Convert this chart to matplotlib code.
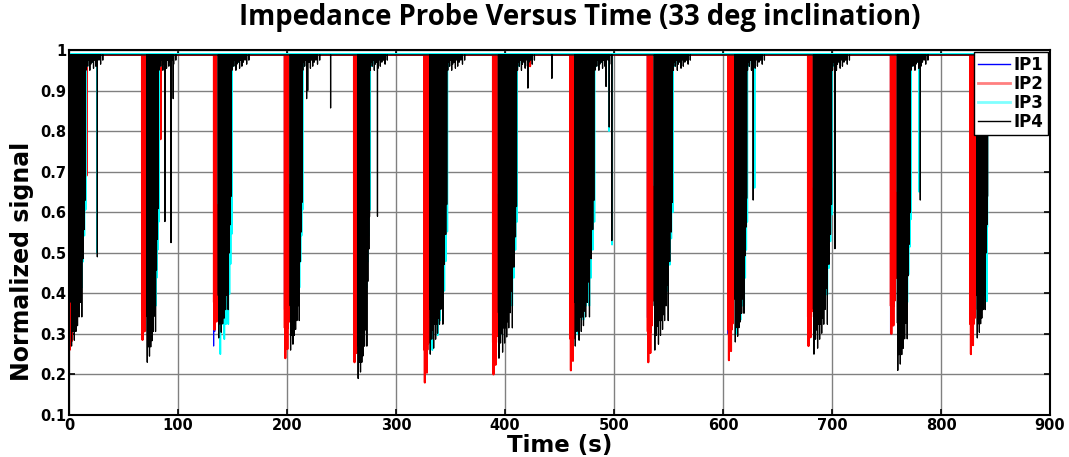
import numpy as np
import matplotlib
matplotlib.use("Agg")
import matplotlib.pyplot as plt
from matplotlib.lines import Line2D

# ---------------------------------------------------------------- data
# slug arrival times (s)
slug_start = [0, 67, 133, 198, 261.5, 326, 389, 460, 531, 605, 678, 754, 827]

# deepest value reached by each probe during each slug
ip1_min = [0.30, 0.33, 0.27, 0.36, 0.30, 0.34, 0.33, 0.30, 0.34, 0.30, 0.32, 0.30, 0.40]
ip2_min = [0.26, 0.285, 0.31, 0.24, 0.23, 0.18, 0.20, 0.21, 0.23, 0.235, 0.27, 0.30, 0.25]
ip3_min = [0.35, 0.30, 0.25, 0.35, 0.35, 0.26, 0.30, 0.30, 0.34, 0.30, 0.33, 0.31, 0.38]
ip4_min = [0.27, 0.23, 0.29, 0.26, 0.19, 0.25, 0.24, 0.27, 0.26, 0.28, 0.25, 0.21, 0.29]

# delay after slug arrival and duration of the aerated region seen by IP4 (s)
ip4_delay = [2, 4.5, 4, 5, 3.5, 5, 5, 4, 6, 6, 5, 6, 6]
ip4_dur = [13, 10.5, 12, 11, 11, 16, 17, 18, 17, 11, 17, 12, 10]

# relative depth of successive troughs inside a slug (1 = deepest)
ip1_shape = [1.0, 0.9, 0.95, 0.85, 0.9, 0.7, 0.8, 0.5, 0.3, 0.05]
ip2_shape = [0.9, 1.0, 0.85, 0.95, 0.8, 0.97, 0.9, 0.75, 0.88, 0.6, 0.8, 0.35,
             0.5, 0.06, 0.03, 0.05, 0.02]
ip3_shape = [0.5, 0.8, 0.6, 1.0, 0.7, 0.75, 0.9, 0.6, 0.85, 0.7, 0.95, 0.8,
             0.6, 0.9, 0.7, 0.85, 0.5, 0.9, 0.3, 0.8, 0.1, 0.7, 0.05, 0.6]
ip4_shape = [0.85, 1.0, 0.9, 0.8, 0.95, 0.88, 0.7, 0.92, 0.98, 0.8, 0.9, 0.75,
             0.95, 0.85, 0.9, 0.7, 0.93, 0.8, 0.88, 0.6, 0.9, 0.82, 0.5, 0.85,
             0.1, 0.78, 0.05, 0.9, 0.3, 0.05, 0.7, 0.08, 0.04, 0.6, 0.05, 0.5]

# small dips in the film behind each slug (offset after the slug body, value)
ip4_wake_dt = [0.5, 1.5, 2.2, 3.0, 4.1, 5.0, 6.3, 7.5, 8.2, 9.6, 11.0, 12.5, 14.0, 16.0]
ip4_wake_v = [0.95, 0.97, 0.96, 0.975, 0.95, 0.965, 0.97, 0.955, 0.975, 0.96,
              0.97, 0.975, 0.965, 0.975]
ip3_wake_dt = [1.0, 3.5, 6.0, 9.0]
ip3_wake_v = [0.96, 0.965, 0.97, 0.975]

# isolated bubbles (time, value)
ip2_spike_t = [16, 84, 423]
ip2_spike_v = [0.69, 0.78, 0.96]
ip3_spike_t = [25.6, 408, 495.4, 498.2, 629, 780, 842]
ip3_spike_v = [0.50, 0.48, 0.80, 0.52, 0.66, 0.65, 0.38]
ip4_spike_t = [26, 88, 93.6, 95.6, 218, 219, 240, 283, 421, 443, 492.7, 495.6,
               498, 627.7, 698, 702.7, 781]
ip4_spike_v = [0.49, 0.577, 0.525, 0.88, 0.88, 0.90, 0.857, 0.59, 0.906, 0.93,
               0.91, 0.81, 0.53, 0.63, 0.71, 0.51, 0.63]

# liquid-film level of each probe between slugs
baseline = {"IP1": 0.988, "IP2": 0.988, "IP3": 0.9905, "IP4": 0.988}

t_end = 843.0
dt = 0.05

# ---------------------------------------------------------------- signals
time = np.arange(0, t_end + dt, dt)


def put(sig, t, v):
    i = int(round(t / dt))
    if 0 <= i < len(sig):
        sig[i] = min(sig[i], v)


def build(base, mins, shape, delays, durs, spikes_t, spikes_v,
          wake_dt=(), wake_v=()):
    sig = np.full(time.shape, base)
    for k, s in enumerate(slug_start):
        t0 = s + delays[k]
        step = durs[k] / len(shape)
        for j, r in enumerate(shape):
            put(sig, t0 + j * step, base - (base - mins[k]) * r)
        t1 = t0 + durs[k]
        for d, v in zip(wake_dt, wake_v):
            put(sig, t1 + d, v)
    for t, v in zip(spikes_t, spikes_v):
        put(sig, t, v)
    return sig


n = len(slug_start)
ip1 = build(baseline["IP1"], ip1_min, ip1_shape, [-0.3] * n, [5.0] * n, [], [])
ip2 = build(baseline["IP2"], ip2_min, ip2_shape, [0.0] * n, [8.0] * n,
            ip2_spike_t, ip2_spike_v)
ip3 = build(baseline["IP3"], ip3_min, ip3_shape, [d + 0.3 for d in ip4_delay],
            [d + 0.5 for d in ip4_dur], ip3_spike_t, ip3_spike_v,
            ip3_wake_dt, ip3_wake_v)
ip4 = build(baseline["IP4"], ip4_min, ip4_shape, ip4_delay, ip4_dur,
            ip4_spike_t, ip4_spike_v, ip4_wake_dt, ip4_wake_v)

# ---------------------------------------------------------------- figure
W, H = 1069, 457
FONT = "DejaVu Sans"
fig = plt.figure(figsize=(W / 100, H / 100), dpi=100)
ax = fig.add_axes([69 / W, 1 - 415 / H, (1050 - 69) / W, (415 - 50) / H])

ax.plot(time, ip1, color="#0000ff", lw=0.8)
ax.plot(time, ip2, color="#ff0000", lw=1.5)
ax.plot(time, ip3, color="#00ffff", lw=1.2)
ax.plot(time, ip4, color="#000000", lw=0.9)

ax.set_xlim(0, 900)
ax.set_ylim(0.1, 1.0)
ax.set_xticks(np.arange(0, 901, 100))
ax.set_yticks(np.round(np.arange(0.1, 1.01, 0.1), 1))
ax.set_yticklabels(["0.1", "0.2", "0.3", "0.4", "0.5", "0.6", "0.7", "0.8",
                    "0.9", "1"])
ax.grid(True, color="#808080", lw=1.0, ls="-")
ax.set_axisbelow(True)
ax.tick_params(direction="in", length=4, width=1.2, top=True, right=True,
               labelsize=10.5, pad=2)
for lab in ax.get_xticklabels() + ax.get_yticklabels():
    lab.set_fontweight("bold")
    lab.set_fontfamily(FONT)
for sp in ax.spines.values():
    sp.set_linewidth(1.5)

ax.set_xlabel("Time (s)", fontsize=16.5, fontweight="bold", family=FONT)
ax.xaxis.label.set_va("baseline")
ax.xaxis.set_label_coords(0.5, (415 - 452) / 365)
ax.set_ylabel("Normalized signal", fontsize=17, fontweight="bold",
              family=FONT)
ax.yaxis.set_label_coords(-0.0357, 0.42)

title = fig.text(580 / W, 1 - 18 / H,
                 "Impedance Probe Versus Time (33 deg inclination)",
                 ha="center", va="center", fontsize=18, fontweight="bold",
                 family="Open Sans")
fig.canvas.draw()
w = title.get_window_extent().width
title.set_fontsize(18 * 684 / w)

handles = [Line2D([], [], color="#0000ff", lw=1.0),
           Line2D([], [], color="#ff8080", lw=2.0),
           Line2D([], [], color="#80ffff", lw=2.0),
           Line2D([], [], color="#000000", lw=1.0)]
leg = ax.legend(handles, ["IP1", "IP2", "IP3", "IP4"], loc="upper right",
                bbox_to_anchor=(1048 / W, 1 - 52 / H),
                bbox_transform=fig.transFigure, borderaxespad=0,
                fancybox=False, framealpha=1, edgecolor="black",
                handlelength=1.9, handletextpad=0.25, labelspacing=0.05,
                borderpad=0.25, prop={"family": FONT,
                                      "weight": "bold", "size": 12})
leg.get_frame().set_linewidth(1.0)

fig.savefig("out.png", dpi=100)
